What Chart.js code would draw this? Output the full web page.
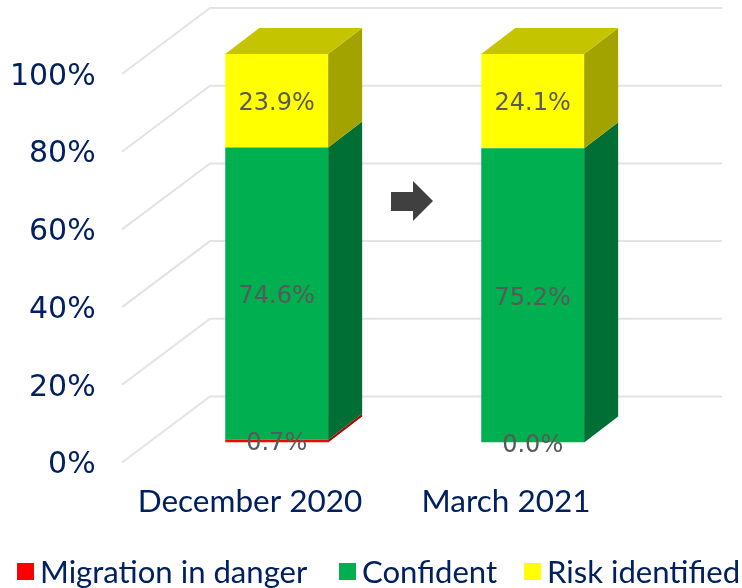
<!DOCTYPE html>
<html>
<head>
<meta charset="utf-8">
<script src="https://cdn.jsdelivr.net/npm/chart.js@4"></script>
<style>
  html, body { margin: 0; padding: 0; background: #fff; }
  #wrap { position: relative; width: 742px; height: 588px; overflow: hidden; }
  #legend { position: absolute; left: 0; top: 550px; width: 742px; height: 38px; font: 31.1px Lato, sans-serif; color: #002060; }
  #legend span { position: absolute; top: 0; line-height: 42px; white-space: nowrap; }
  #legend i { position: absolute; top: 13px; width: 17px; height: 17px; }
</style>
</head>
<body>
<div id="wrap">
  <canvas id="chart" width="742" height="588"></canvas>
  <div id="legend"></div>
</div>
<script>
const categories = ['December 2020', 'March 2021'];
const migrationInDanger = [0.7, 0.0];
const confident = [74.6, 75.2];
const riskIdentified = [23.9, 24.1];
const yTicks = [0, 20, 40, 60, 80, 100];

const NAVY = '#002060';
const FONT = 'Lato, sans-serif';
const NUM_FONT = '"DejaVu Sans", sans-serif';

// the source is a 100% stacked column, so the printed numbers get rescaled to fill the bar
const totals = categories.map((c, i) => migrationInDanger[i] + confident[i] + riskIdentified[i]);
const toShare = arr => arr.map((v, i) => v / totals[i] * 100);

const seriesInfo = [
  { label: 'Migration in danger', values: migrationInDanger, color: '#ff0000', side: '#b00000' },
  { label: 'Confident', values: confident, color: '#00b050', side: '#006f35' },
  { label: 'Risk identified', values: riskIdentified, color: '#ffff00', side: '#a3a300', top: '#c4c400' }
];

// 3D look: bar depth, and how far the wall/floor sit from the bars
const barDepth = { x: 34, y: -26 };
const wallBack = { x: 61.3, y: -46 };
const wallFront = { x: -26.7, y: 20 };
const wallWidth = 512;

const wallGrid = {
  id: 'wallGrid',
  beforeDatasetsDraw(chart) {
    const { ctx, scales: { x, y } } = chart;
    ctx.save();
    ctx.strokeStyle = '#e3e3e3';
    ctx.lineWidth = 2;
    yTicks.forEach(t => {
      const py = y.getPixelForValue(t);
      ctx.beginPath();
      ctx.moveTo(x.left + wallFront.x, py + wallFront.y);
      ctx.lineTo(x.left + wallBack.x, py + wallBack.y);
      ctx.lineTo(x.left + wallBack.x + wallWidth, py + wallBack.y);
      ctx.stroke();
    });
    ctx.restore();
  }
};

const barSides = {
  id: 'barSides',
  afterDatasetsDraw(chart) {
    const ctx = chart.ctx;
    ctx.save();
    chart.data.datasets.forEach((ds, d) => {
      const info = seriesInfo[d];
      chart.getDatasetMeta(d).data.forEach(bar => {
        const r = bar.x + bar.width / 2;
        const l = bar.x - bar.width / 2;
        ctx.fillStyle = info.side;
        ctx.beginPath();
        ctx.moveTo(r, bar.y);
        ctx.lineTo(r + barDepth.x, bar.y + barDepth.y);
        ctx.lineTo(r + barDepth.x, bar.base + barDepth.y);
        ctx.lineTo(r, bar.base);
        ctx.closePath();
        ctx.fill();
        if (info.top) {
          ctx.fillStyle = info.top;
          ctx.beginPath();
          ctx.moveTo(l, bar.y);
          ctx.lineTo(l + barDepth.x, bar.y + barDepth.y);
          ctx.lineTo(r + barDepth.x, bar.y + barDepth.y);
          ctx.lineTo(r, bar.y);
          ctx.closePath();
          ctx.fill();
        }
      });
    });
    ctx.restore();
  }
};

const valueLabels = {
  id: 'valueLabels',
  afterDraw(chart) {
    const ctx = chart.ctx;
    ctx.save();
    ctx.fillStyle = '#595959';
    ctx.font = '24px ' + NUM_FONT;
    ctx.textAlign = 'center';
    ctx.textBaseline = 'middle';
    chart.data.datasets.forEach((ds, d) => {
      chart.getDatasetMeta(d).data.forEach((bar, i) => {
        ctx.fillText(seriesInfo[d].values[i].toFixed(1) + '%', bar.x, (bar.y + bar.base) / 2 + 3);
      });
    });
    // arrow between the two columns
    ctx.fillStyle = '#404040';
    ctx.beginPath();
    ctx.moveTo(391, 192);
    ctx.lineTo(413, 192);
    ctx.lineTo(413, 181);
    ctx.lineTo(433, 201);
    ctx.lineTo(413, 221);
    ctx.lineTo(413, 211);
    ctx.lineTo(391, 211);
    ctx.closePath();
    ctx.fill();
    ctx.restore();
  }
};

new Chart(document.getElementById('chart'), {
  type: 'bar',
  data: {
    labels: categories,
    datasets: seriesInfo.map(s => ({
      label: s.label,
      data: toShare(s.values),
      backgroundColor: s.color,
      borderWidth: 0,
      categoryPercentage: 1,
      barPercentage: 0.402
    }))
  },
  options: {
    responsive: false,
    animation: false,
    layout: { autoPadding: false, padding: { left: 0, top: 54, right: 81.3, bottom: 0 } },
    plugins: { legend: { display: false }, tooltip: { enabled: false } },
    scales: {
      x: {
        stacked: true,
        grid: { display: false },
        border: { display: false },
        afterFit: s => { s.height = 145.5; },
        ticks: {
          color: NAVY,
          font: { family: FONT, size: 31.5 },
          padding: 32,
          labelOffset: -26.7,
          maxRotation: 0,
          autoSkip: false
        }
      },
      y: {
        stacked: true,
        min: 0,
        max: 100,
        grid: { display: false },
        border: { display: false },
        // no room reserved for half a tick label, the labels sit below their ticks here
        afterFit: s => { s.width = 148.7; s.paddingTop = 0; s.paddingBottom = 0; },
        ticks: {
          color: NAVY,
          font: { family: NUM_FONT, size: 30 },
          stepSize: 20,
          padding: 45,
          labelOffset: 23,
          callback: v => v + '%'
        }
      }
    }
  },
  plugins: [wallGrid, barSides, valueLabels]
});

// legend spacing in the source is tighter than the built in legend allows
const legendX = [17, 339, 524];
const legend = document.getElementById('legend');
seriesInfo.forEach((s, i) => {
  legend.innerHTML += `<i style="left:${legendX[i]}px;background:${s.color}"></i><span style="left:${legendX[i] + 23}px">${s.label}</span>`;
});
</script>
</body>
</html>
